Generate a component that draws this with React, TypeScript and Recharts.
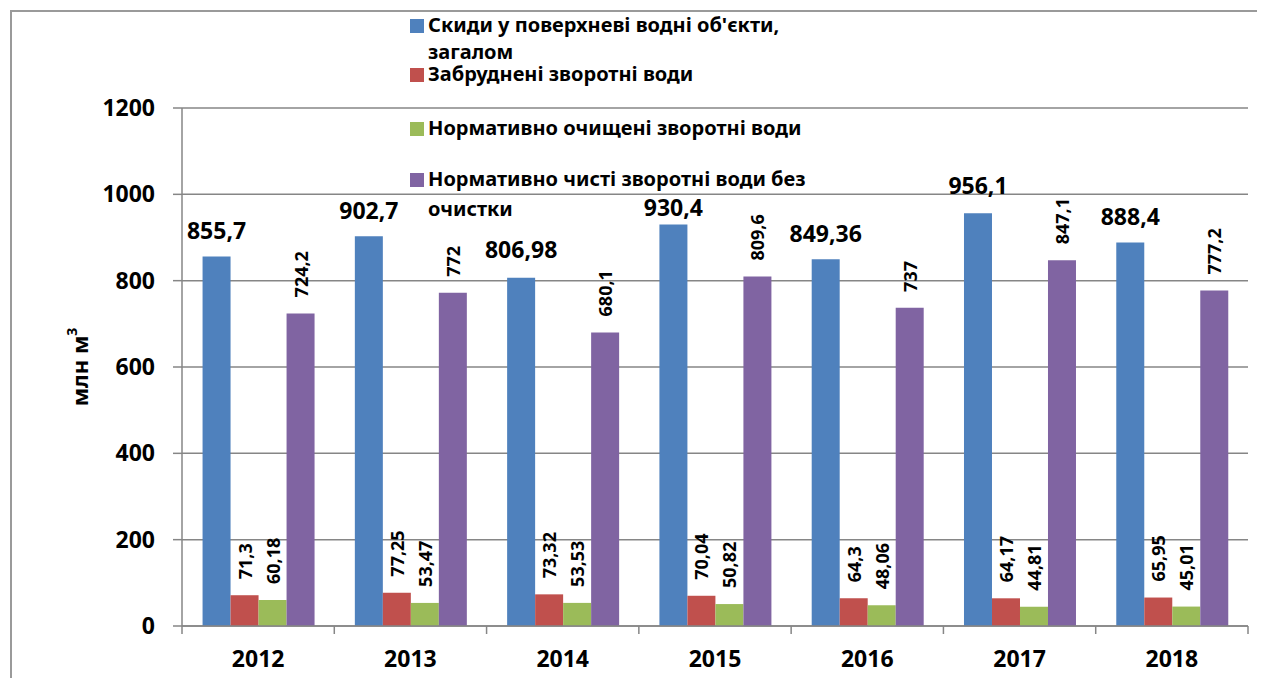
import React from 'react';
import { BarChart, Bar, XAxis, YAxis, CartesianGrid, Legend, LabelList } from 'recharts';

const FONT = '"Noto Sans", "DejaVu Sans", sans-serif';

const years = ['2012', '2013', '2014', '2015', '2016', '2017', '2018'];
const totalDischarge = [855.7, 902.7, 806.98, 930.4, 849.36, 956.1, 888.4];
const pollutedWater = [71.3, 77.25, 73.32, 70.04, 64.3, 64.17, 65.95];
const treatedWater = [60.18, 53.47, 53.53, 50.82, 48.06, 44.81, 45.01];
const cleanWater = [724.2, 772, 680.1, 809.6, 737, 847.1, 777.2];
const yTicks = [0, 200, 400, 600, 800, 1000, 1200];

const seriesNames = [
  "Скиди у поверхневі водні об'єкти, загалом",
  'Забруднені зворотні води',
  'Нормативно очищені зворотні води',
  'Нормативно чисті зворотні води без очистки',
];
// how the legend wraps each name
const legendLines = [
  ["Скиди у поверхневі водні об'єкти,", 'загалом'],
  ['Забруднені зворотні води'],
  ['Нормативно очищені зворотні води'],
  ['Нормативно чисті зворотні води без', 'очистки'],
];
const colors = ['#4F81BD', '#C0504D', '#9BBB59', '#8064A2'];
const legendTops = [3, 52, 106, 157];
// gap (px) between top of blue bar and its label, as placed in the original
const totalLabelGap = [18, 17, 20, 8, 17, 19, 18];
const GRID = '#868686';

const data = years.map((year, i) => ({
  year,
  total: totalDischarge[i],
  polluted: pollutedWater[i],
  treated: treatedWater[i],
  clean: cleanWater[i],
}));

const fmt = (v: any) => String(v).replace('.', ',');

const TotalLabel = (props: any) => {
  const { x, y, width, value, index } = props;
  return (
    <text
      x={x + width / 2}
      y={y - (totalLabelGap[index] ?? 17)}
      textAnchor="middle"
      fontSize={23}
      fontWeight="bold"
      fontFamily={FONT}
      fill="#000"
    >
      {fmt(value)}
    </text>
  );
};

const VerticalLabel = (props: any) => {
  const { x, y, width, value } = props;
  const cx = x + width / 2;
  const ty = y - 16;
  return (
    <text
      x={cx}
      y={ty}
      transform={`rotate(-90 ${cx} ${ty})`}
      textAnchor="start"
      dominantBaseline="central"
      fontSize={18}
      fontWeight="bold"
      fontFamily={FONT}
      fill="#000"
    >
      {fmt(value)}
    </text>
  );
};

// category label plus tick marks on the category boundaries (Excel style)
const renderYearTick = (props: any) => {
  const { x, y, payload, index, visibleTicksCount } = props;
  const cx = Number(x);
  const cy = Number(y);
  const half = payload && typeof payload.offset === 'number' && payload.offset > 0 ? payload.offset : 76.3;
  const last = index === visibleTicksCount - 1;
  return (
    <g>
      <line x1={cx - half} x2={cx - half} y1={cy} y2={cy + 8} stroke={GRID} strokeWidth={1.5} />
      {last && <line x1={cx + half} x2={cx + half} y1={cy} y2={cy + 8} stroke={GRID} strokeWidth={1.5} />}
      <text x={cx} y={cy + 41} textAnchor="middle" fontSize={23} fontWeight="bold" fontFamily={FONT} fill="#000">
        {payload.value}
      </text>
    </g>
  );
};

const renderLegend = () => (
  <div style={{ position: 'relative', width: 420, height: 220, fontFamily: FONT, fontSize: 20, fontWeight: 'bold', color: '#000' }}>
    {legendLines.map((lines, i) => (
      <React.Fragment key={i}>
        <div style={{ position: 'absolute', left: 0, top: legendTops[i] + 4, width: 14, height: 14, background: colors[i] }} />
        {lines.map((line, j) => (
          <div
            key={line}
            style={{ position: 'absolute', left: 18, top: legendTops[i] + j * (i === 3 ? 30 : 27), whiteSpace: 'nowrap', lineHeight: '20px' }}
          >
            {line}
          </div>
        ))}
      </React.Fragment>
    ))}
  </div>
);

const renderYLabel = (props: any) => {
  const vb = props.viewBox;
  const cx = vb.x + 67;
  const cy = vb.y + vb.height / 2;
  return (
    <text
      x={cx}
      y={cy}
      transform={`rotate(-90 ${cx} ${cy})`}
      textAnchor="middle"
      dominantBaseline="central"
      fontSize={22}
      fontWeight="bold"
      fontFamily={FONT}
      fill="#000"
    >
      млн м<tspan dy={-8} fontSize={14}>3</tspan>
    </text>
  );
};

export default function App() {
  const tickStyle = { fontSize: 23, fontWeight: 'bold', fill: '#000', fontFamily: FONT };
  return (
    <>
      <style>{'html{overflow:hidden}'}</style>
      <div
        style={{
          marginLeft: 2,
          marginTop: 2,
          width: 1253,
          height: 666,
          borderTop: '2px solid #9a9a9a',
          borderLeft: '2px solid #9a9a9a',
        }}
      >
        <BarChart
          width={1253}
          height={666}
          data={data}
          barCategoryGap="13.5%"
          barGap={0}
          margin={{ top: 96, right: 17, left: 0, bottom: 0 }}
        >
          <CartesianGrid vertical={false} stroke={GRID} strokeWidth={1.5} />
          <XAxis
            dataKey="year"
            height={52}
            axisLine={{ stroke: GRID, strokeWidth: 1.5 }}
            tickLine={false}
            tickSize={0}
            tickMargin={0}
            tick={renderYearTick}
            interval={0}
          />
          <YAxis
            width={170}
            domain={[0, 1200]}
            ticks={yTicks}
            axisLine={{ stroke: GRID, strokeWidth: 1.5 }}
            tickLine={{ stroke: GRID, strokeWidth: 1.5 }}
            tickSize={9}
            tickMargin={18}
            tick={tickStyle}
            label={{ content: renderYLabel }}
          />
          <Legend
            layout="vertical"
            align="center"
            verticalAlign="middle"
            content={renderLegend}
            wrapperStyle={{ left: 398, top: 0, width: 420 }}
          />
          <Bar dataKey="total" name={seriesNames[0]} fill={colors[0]} isAnimationActive={false}>
            <LabelList dataKey="total" content={TotalLabel} />
          </Bar>
          <Bar dataKey="polluted" name={seriesNames[1]} fill={colors[1]} isAnimationActive={false}>
            <LabelList dataKey="polluted" content={VerticalLabel} />
          </Bar>
          <Bar dataKey="treated" name={seriesNames[2]} fill={colors[2]} isAnimationActive={false}>
            <LabelList dataKey="treated" content={VerticalLabel} />
          </Bar>
          <Bar dataKey="clean" name={seriesNames[3]} fill={colors[3]} isAnimationActive={false}>
            <LabelList dataKey="clean" content={VerticalLabel} />
          </Bar>
        </BarChart>
      </div>
    </>
  );
}
